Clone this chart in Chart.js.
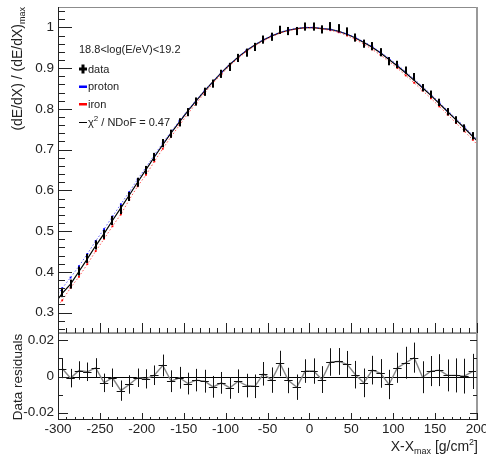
<!DOCTYPE html>
<html>
<head>
<meta charset="utf-8">
<script src="https://cdn.jsdelivr.net/npm/chart.js@4.4.1/dist/chart.umd.min.js"></script>
<style>
  html, body { margin: 0; padding: 0; background: #fff; }
  #wrap { position: relative; width: 486px; height: 454px; }
  canvas { position: absolute; left: 0; }
  #top { top: 0; }
  #res { top: 330px; }
</style>
</head>
<body>
<div id="wrap">
  <canvas id="top" width="486" height="334"></canvas>
  <canvas id="res" width="486" height="124"></canvas>
</div>
<script>
const FONT = '"Liberation Sans", Arial, sans-serif';
const INK = '#222';

// bin centres, X - Xmax [g/cm2]
const xCenters = [-295,-285,-275,-265,-255,-245,-235,-225,-215,-205,
                  -195,-185,-175,-165,-155,-145,-135,-125,-115,-105,
                  -95,-85,-75,-65,-55,-45,-35,-25,-15,-5,
                  5,15,25,35,45,55,65,75,85,95,
                  105,115,125,135,145,155,165,175,185,195];

// measured profile (data)
const dataVals = [0.349,0.370,0.402,0.433,0.466,0.492,0.526,0.553,0.585,0.620,
                  0.650,0.682,0.716,0.739,0.767,0.792,0.818,0.842,0.862,0.886,
                  0.903,0.925,0.938,0.952,0.970,0.977,0.994,0.991,0.991,1.002,
                  1.002,0.995,1.003,0.998,0.990,0.975,0.960,0.954,0.939,0.917,
                  0.909,0.895,0.879,0.852,0.836,0.816,0.793,0.773,0.753,0.734];
const dataErr = [0.011,0.011,0.011,0.011,0.011,0.011,0.011,0.011,0.011,0.011,
                 0.010,0.010,0.010,0.010,0.010,0.010,0.010,0.010,0.010,0.010,
                 0.010,0.010,0.010,0.010,0.010,0.010,0.010,0.010,0.010,0.010,
                 0.010,0.010,0.010,0.010,0.010,0.010,0.010,0.010,0.010,0.010,
                 0.009,0.009,0.009,0.009,0.009,0.009,0.009,0.009,0.009,0.009];

// fit curve (black), with values at the plot edges
const fitVals = [0.347,0.370,0.401,0.432,0.464,0.494,0.526,0.557,0.588,0.620,
                 0.651,0.682,0.712,0.741,0.768,0.795,0.820,0.844,0.867,0.889,
                 0.909,0.927,0.943,0.957,0.969,0.979,0.987,0.993,0.997,0.9995,
                 0.9995,0.997,0.995,0.990,0.983,0.974,0.963,0.951,0.937,0.921,
                 0.905,0.888,0.870,0.852,0.833,0.813,0.793,0.773,0.753,0.732];
const fitEnds = [0.333, 0.722];

// simulations
const protonVals = [0.360,0.386,0.414,0.444,0.476,0.505,0.536,0.566,0.596,0.627,
                    0.657,0.687,0.716,0.744,0.771,0.797,0.822,0.845,0.868,0.890,
                    0.910,0.928,0.944,0.958,0.970,0.980,0.988,0.994,0.998,1.000,
                    1.000,0.998,0.995,0.990,0.984,0.975,0.965,0.953,0.939,0.924,
                    0.908,0.891,0.873,0.855,0.836,0.816,0.796,0.776,0.756,0.735];
const protonEnds = [0.346, 0.725];
const ironVals = [0.330,0.361,0.388,0.419,0.451,0.481,0.512,0.541,0.577,0.610,
                  0.638,0.671,0.702,0.732,0.760,0.788,0.814,0.839,0.863,0.885,
                  0.906,0.924,0.941,0.955,0.967,0.977,0.986,0.992,0.996,0.999,
                  0.999,0.996,0.993,0.988,0.980,0.970,0.959,0.946,0.932,0.916,
                  0.900,0.882,0.864,0.845,0.826,0.806,0.786,0.765,0.745,0.724];
const ironEnds = [0.318, 0.713];

// residuals panel
const resVals = [0.0044,-0.0009,0.0033,0.0026,0.0048,-0.0035,-0.0007,-0.0078,-0.0044,-0.0007,
                 -0.0013,0.0007,0.0061,-0.0026,-0.0007,-0.0039,-0.0020,-0.0026,-0.0057,-0.0035,
                 -0.0063,-0.0026,-0.0050,-0.0054,0.0015,-0.0020,0.0072,-0.0022,-0.0059,0.0030,
                 0.0030,-0.0017,0.0080,0.0083,0.0067,0.0010,-0.0035,0.0035,0.0017,-0.0044,
                 0.0048,0.0076,0.0104,-0.0004,0.0030,0.0035,0.0006,0.0006,0.0002,0.0028];
const resErr = [0.0053,0.0051,0.0051,0.0051,0.0053,0.0051,0.0051,0.0056,0.0051,0.0051,
                0.0053,0.0054,0.0060,0.0060,0.0060,0.0060,0.0062,0.0063,0.0060,0.0060,
                0.0060,0.0065,0.0065,0.0065,0.0065,0.0070,0.0070,0.0070,0.0070,0.0065,
                0.0070,0.0074,0.0076,0.0074,0.0074,0.0076,0.0079,0.0079,0.0079,0.0081,
                0.0083,0.0088,0.0083,0.0088,0.0083,0.0088,0.0088,0.0094,0.0096,0.0097];

// axis ticks
const xTicks = [-300,-250,-200,-150,-100,-50,0,50,100,150,200];
const yTicksTop = [0.3,0.4,0.5,0.6,0.7,0.8,0.9,1];
const yTicksRes = [-0.02,0,0.02];
const binHalf = 5;

const xMinor = [];
for (let v = -300; v <= 200; v += 10) xMinor.push(v);
const yMinorTop = [];
for (let k = 13; k <= 52; k++) yMinorTop.push(k / 50);
const yMinorRes = [-0.01, 0.01];

function withEnds(vals, ends) {
  return [{x: -300, y: ends[0]}]
    .concat(xCenters.map((x, i) => ({x: x, y: vals[i]})))
    .concat([{x: 200, y: ends[1]}]);
}
const innerPt = r => ctx => (ctx.dataIndex === 0 || ctx.dataIndex === xCenters.length + 1) ? 0 : r;
const fmt = v => String(+(+v).toFixed(3));
const noPad = s => { s.paddingTop = 0; s.paddingBottom = 0; s.paddingLeft = 0; s.paddingRight = 0; };

// ticks: pos 'left' | 'right' | 'bottom', drawn inward
function ticks(ctx, chart, pos, values, len) {
  const a = chart.chartArea, s = pos === 'bottom' ? chart.scales.x : chart.scales.y;
  ctx.beginPath();
  values.forEach(v => {
    const p = Math.round(s.getPixelForValue(v)) + 0.5;
    if (pos === 'left') { ctx.moveTo(a.left, p); ctx.lineTo(a.left + len, p); }
    if (pos === 'right') { ctx.moveTo(a.right, p); ctx.lineTo(a.right - len, p); }
    if (pos === 'bottom') { ctx.moveTo(p, a.bottom); ctx.lineTo(p, a.bottom - len); }
  });
  ctx.stroke();
}

// frame: dark left/bottom axis, grey others
function frame(ctx, a, darkBottom) {
  ctx.lineWidth = 1;
  ctx.strokeStyle = '#8c8c8c';
  ctx.beginPath(); ctx.moveTo(a.left, a.top + 0.5); ctx.lineTo(a.right, a.top + 0.5); ctx.stroke();
  ctx.lineWidth = 2;
  ctx.strokeStyle = '#999';
  ctx.beginPath(); ctx.moveTo(a.right, a.top); ctx.lineTo(a.right, a.bottom); ctx.stroke();
  if (!darkBottom) { ctx.beginPath(); ctx.moveTo(a.left, a.bottom); ctx.lineTo(a.right, a.bottom); ctx.stroke(); }
  ctx.lineWidth = 1;
  ctx.strokeStyle = INK;
  ctx.beginPath(); ctx.moveTo(a.left + 0.5, a.top); ctx.lineTo(a.left + 0.5, a.bottom); ctx.stroke();
  if (darkBottom) { ctx.beginPath(); ctx.moveTo(a.left, a.bottom - 0.5); ctx.lineTo(a.right, a.bottom - 0.5); ctx.stroke(); }
}

// text with a sub/superscript run
function richText(ctx, parts, x, y) {
  parts.forEach(p => {
    ctx.font = p.size + 'px ' + FONT;
    ctx.fillText(p.t, x, y + (p.dy || 0));
    x += ctx.measureText(p.t).width;
  });
}
function richWidth(ctx, parts) {
  return parts.reduce((w, p) => { ctx.font = p.size + 'px ' + FONT; return w + ctx.measureText(p.t).width; }, 0);
}

const topDeco = {
  id: 'topDeco',
  afterDatasetsDraw(chart) {
    const {ctx, chartArea: a, scales: {x, y}} = chart;
    ctx.save();
    // data error bars
    ctx.fillStyle = '#000';
    xCenters.forEach((xv, i) => {
      const px = Math.round(x.getPixelForValue(xv));
      const y1 = y.getPixelForValue(dataVals[i] + dataErr[i]);
      const y2 = y.getPixelForValue(dataVals[i] - dataErr[i]);
      ctx.fillRect(px - 1, y1, 2, y2 - y1);
    });
    frame(ctx, a, false);
    ctx.strokeStyle = INK;
    ctx.lineWidth = 1;
    ticks(ctx, chart, 'left', yTicksTop, 14);
    ticks(ctx, chart, 'left', yMinorTop, 7);
    ticks(ctx, chart, 'bottom', xTicks, 10);
    ticks(ctx, chart, 'bottom', xMinor, 5);

    // y title
    ctx.fillStyle = INK;
    ctx.textBaseline = 'middle';
    const title = [{t: '(dE/dX) / (dE/dX)', size: 14}, {t: 'max', size: 9, dy: 4}];
    ctx.translate(18.5, 7);
    ctx.rotate(-Math.PI / 2);
    richText(ctx, title, -richWidth(ctx, title), 0);
    ctx.setTransform(1, 0, 0, 1, 0, 0);

    // legend
    ctx.font = '11px ' + FONT;
    ctx.fillText('18.8<log(E/eV)<19.2', 79, 50);
    ctx.fillStyle = '#000';
    ctx.fillRect(79, 67.5, 8, 3);
    ctx.fillRect(81.5, 64.5, 3, 9);
    ctx.fillStyle = INK;
    ctx.fillText('data', 88, 69.5);
    ctx.fillStyle = '#0000ff';
    ctx.fillRect(79, 85.5, 8, 2.5);
    ctx.fillStyle = INK;
    ctx.fillText('proton', 88, 87);
    ctx.fillStyle = '#ff0000';
    ctx.fillRect(79, 103, 8, 2.5);
    ctx.fillStyle = INK;
    ctx.fillText('iron', 88, 104.5);
    ctx.strokeStyle = '#000';
    ctx.beginPath(); ctx.moveTo(79, 122.5); ctx.lineTo(87, 122.5); ctx.stroke();
    richText(ctx, [{t: '\u03c7', size: 11}, {t: '2', size: 8, dy: -4}, {t: ' / NDoF = 0.47', size: 11}], 88, 122.5);
    ctx.restore();
  }
};

const resDeco = {
  id: 'resDeco',
  beforeDatasetsDraw(chart) {
    const {ctx, chartArea: a, scales: {y}} = chart;
    const p = Math.round(y.getPixelForValue(0)) + 0.5;
    ctx.save();
    ctx.strokeStyle = '#000';
    ctx.lineWidth = 1;
    ctx.beginPath(); ctx.moveTo(a.left, p); ctx.lineTo(a.right, p); ctx.stroke();
    ctx.restore();
  },
  afterDatasetsDraw(chart) {
    const {ctx, chartArea: a, scales: {x, y}} = chart;
    ctx.save();
    ctx.strokeStyle = '#111';
    ctx.lineWidth = 1;
    ctx.beginPath();
    xCenters.forEach((xv, i) => {
      const px = Math.round(x.getPixelForValue(xv)) + 0.5;
      const py = Math.round(y.getPixelForValue(resVals[i])) + 0.5;
      ctx.moveTo(px, y.getPixelForValue(resVals[i] + resErr[i]));
      ctx.lineTo(px, y.getPixelForValue(resVals[i] - resErr[i]));
      ctx.moveTo(x.getPixelForValue(xv - binHalf), py);
      ctx.lineTo(x.getPixelForValue(xv + binHalf), py);
    });
    ctx.stroke();
    frame(ctx, a, true);
    ctx.strokeStyle = INK;
    ctx.lineWidth = 1;
    ticks(ctx, chart, 'left', yTicksRes, 10);
    ticks(ctx, chart, 'left', yMinorRes, 5);
    ticks(ctx, chart, 'right', yTicksRes, 7);
    ticks(ctx, chart, 'right', yMinorRes, 4);
    ticks(ctx, chart, 'bottom', xTicks, 7);
    ticks(ctx, chart, 'bottom', xMinor, 3);

    ctx.fillStyle = INK;
    ctx.textBaseline = 'middle';
    ctx.textAlign = 'center';
    ctx.font = '13.5px ' + FONT;
    ctx.translate(18.5, 47);
    ctx.rotate(-Math.PI / 2);
    ctx.fillText('Data residuals', 0, 0);
    ctx.setTransform(1, 0, 0, 1, 0, 0);

    ctx.textAlign = 'left';
    ctx.textBaseline = 'alphabetic';
    const xt = [{t: 'X-X', size: 14}, {t: 'max', size: 9, dy: 3}, {t: ' [g/cm', size: 14},
                {t: '2', size: 9, dy: -6}, {t: ']', size: 14}];
    richText(ctx, xt, 478 - richWidth(ctx, xt), 121);
    ctx.restore();
  }
};

const tickFont = {family: FONT, size: 13.5};

new Chart(document.getElementById('top'), {
  type: 'line',
  data: {
    datasets: [
      {label: 'proton', data: withEnds(protonVals, protonEnds), borderColor: 'rgba(40,40,255,0.75)',
       borderWidth: 1, borderDash: [1.5, 2], pointStyle: 'rect', pointRadius: innerPt(1.3),
       pointBackgroundColor: '#0000ff', pointBorderWidth: 0},
      {label: 'iron', data: withEnds(ironVals, ironEnds), borderColor: 'rgba(255,30,30,0.75)',
       borderWidth: 1, borderDash: [1.5, 2], pointStyle: 'rect', pointRadius: innerPt(1.3),
       pointBackgroundColor: '#ff0000', pointBorderWidth: 0},
      {label: 'fit', data: withEnds(fitVals, fitEnds), borderColor: '#000', borderWidth: 1.2, pointRadius: 0}
    ]
  },
  options: {
    responsive: false, animation: false, devicePixelRatio: 1,
    layout: {padding: {top: 7, right: 9, bottom: 1, left: 0}},
    plugins: {legend: {display: false}, tooltip: {enabled: false}},
    scales: {
      x: {type: 'linear', min: -300, max: 200,
          ticks: {display: false}, grid: {display: false, drawTicks: false}, border: {display: false},
          afterFit: s => { s.height = 0; noPad(s); }},
      y: {type: 'linear', min: 0.25, max: 1.05,
          afterBuildTicks: s => { s.ticks = yTicksTop.map(v => ({value: v})); },
          afterFit: s => { s.width = 58; noPad(s); },
          ticks: {font: tickFont, color: INK, padding: 4, autoSkip: false, callback: v => fmt(v)},
          grid: {display: false, drawTicks: false}, border: {display: false}}
    }
  },
  plugins: [topDeco]
});

new Chart(document.getElementById('res'), {
  type: 'line',
  data: {
    datasets: [
      {label: 'residuals', data: xCenters.map((x, i) => ({x: x, y: resVals[i]})),
       borderColor: '#858585', borderWidth: 1.4, pointRadius: 0}
    ]
  },
  options: {
    responsive: false, animation: false, devicePixelRatio: 1,
    layout: {padding: {top: 3, right: 9, bottom: 0, left: 0}},
    plugins: {legend: {display: false}, tooltip: {enabled: false}},
    scales: {
      x: {type: 'linear', min: -300, max: 200,
          afterBuildTicks: s => { s.ticks = xTicks.map(v => ({value: v})); },
          afterFit: s => { s.height = 34; noPad(s); },
          ticks: {font: tickFont, color: INK, padding: 1, autoSkip: false, maxRotation: 0, callback: v => fmt(v)},
          grid: {display: false, drawTicks: false}, border: {display: false}},
      y: {type: 'linear', min: -0.024, max: 0.024,
          afterBuildTicks: s => { s.ticks = yTicksRes.map(v => ({value: v})); },
          afterFit: s => { s.width = 58; noPad(s); },
          ticks: {font: tickFont, color: INK, padding: 4, autoSkip: false, callback: v => fmt(v)},
          grid: {display: false, drawTicks: false}, border: {display: false}}
    }
  },
  plugins: [resDeco]
});
</script>
</body>
</html>
